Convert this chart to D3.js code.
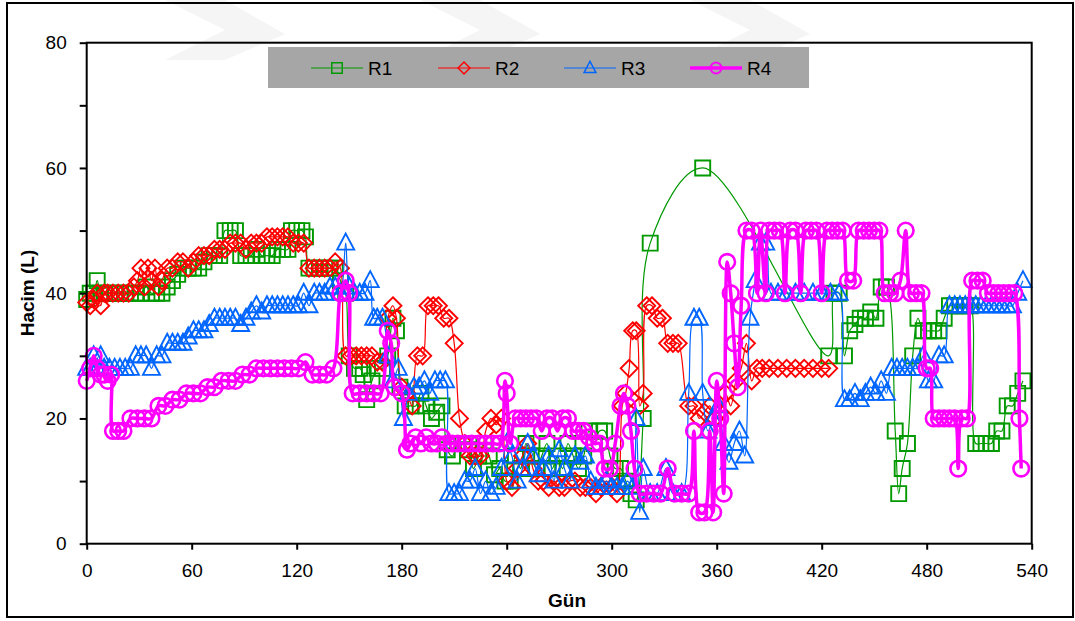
<!DOCTYPE html>
<html>
<head>
<meta charset="utf-8">
<script src="https://cdn.jsdelivr.net/npm/d3@7"></script>
<style>
  html, body { margin: 0; padding: 0; background: #fff; }
  svg { display: block; font-family: "Liberation Sans", Arial, sans-serif; }
</style>
</head>
<body>
<svg id="chart" width="1075" height="621"></svg>
<script>
// Volume (L) of four reactors over time (days)
const seriesNames = ["R1", "R2", "R3", "R4"];
const xTicks = [0, 60, 120, 180, 240, 300, 360, 420, 480, 540];
const yTicks = [0, 10, 20, 30, 40, 50, 60, 70, 80];

const r1 = [[0,39],[2,40],[4,40],[6,42],[8,40],[10,40],[13,40],[16,40],[19,40],[22,40],[25,40],[28,40],[31,40],[34,41],[37,40],[40,40],[43,40],[46,41],[49,42],[52,43],[55,44],[58,44],[61,44],[64,44],[67,45],[70,46],[73,46],[76,46],[79,50],[82,50],[85,50],[88,46],[91,46],[94,46],[97,47],[100,46],[103,46],[106,46],[109,47],[112,47],[115,47],[117,50],[120,50],[123,50],[125,49],[127,44],[130,44],[133,44],[136,44],[139,44],[142,44],[145,42],[148,40],[150,30],[153,28],[156,28],[158,27],[160,23],[163,26],[166,28],[169,28],[172,30],[175,36],[177,34],[179,25],[182,22],[185,22],[188,22],[191,24],[194,22],[197,20],[200,21],[203,22],[206,15],[209,14],[212,16],[215,16],[218,15],[221,12],[224,14],[227,16],[230,14],[233,11],[236,12],[239,10],[242,10],[245,14],[248,12],[251,16],[254,14],[257,12],[260,14],[263,16],[266,12],[269,14],[272,12],[275,16],[278,14],[281,12],[284,14],[287,18],[290,16],[293,18],[296,18],[299,14],[302,12],[305,12],[308,10],[311,8],[314,7],[318,20],[322,48],[352,60],[424,30],[427,40],[430,40],[433,30],[436,34],[439,35],[442,36],[445,36],[448,37],[451,36],[454,41],[457,41],[462,18],[464,8],[466,12],[469,16],[472,30],[475,36],[478,34],[481,34],[484,34],[487,34],[490,36],[493,38],[496,38],[499,38],[502,38],[505,38],[508,16],[511,16],[514,16],[517,16],[520,18],[523,18],[526,22],[529,22],[532,24],[535,26]];

const r2 = [[0,38.5],[2,38],[4,39],[6,40],[8,38],[10,40],[12,40],[15,40],[18,40],[21,40],[24,40],[27,41],[29,42],[31,44],[33,41],[35,44],[37,42],[39,44],[41,41],[43,42],[46,44],[49,44],[52,45],[55,45],[58,44],[61,45],[64,46],[67,46],[70,46],[73,47],[76,47],[79,47],[82,48],[85,48],[88,48],[91,47],[94,48],[97,48],[100,48],[103,49],[106,49],[109,49],[112,49],[115,49],[118,48],[121,48],[124,48],[127,44],[130,44],[133,44],[136,44],[139,44],[142,45],[145,44],[148,30],[151,30],[154,30],[157,30],[160,30],[163,30],[166,29],[169,29],[172,36],[175,38],[177,36],[180,25],[183,24],[186,22],[189,30],[192,30],[195,38],[198,38],[201,38],[204,36],[207,36],[210,32],[213,20],[216,16],[219,14],[222,14],[225,14],[228,18],[231,20],[234,19],[237,20],[240,10],[243,9],[246,12],[249,14],[252,16],[255,12],[258,10],[261,10],[264,9],[267,10],[270,9],[273,9],[276,10],[279,10],[282,9],[285,9],[288,9],[291,8],[294,9],[297,10],[300,9],[303,8],[306,22],[308,24],[310,28],[312,34],[314,34],[316,22],[318,24],[320,38],[323,38],[326,36],[329,36],[332,32],[335,32],[338,32],[344,22],[347,22],[350,20],[353,21],[356,22],[359,20],[362,21],[365,24],[368,22],[371,26],[374,28],[377,32],[380,26],[383,28],[386,28],[390,28],[395,28],[400,28],[405,28],[410,28],[415,28],[420,28],[424,28]];

const r3 = [[0,28],[2,28],[4,30],[6,28],[8,30],[10,28],[13,28],[16,28],[19,28],[22,28],[25,28],[28,30],[31,30],[34,30],[37,28],[40,30],[43,30],[46,32],[49,32],[52,32],[55,32],[58,33],[61,34],[64,34],[67,34],[70,35],[73,36],[76,36],[79,36],[82,36],[85,36],[88,35],[91,36],[94,37],[97,38],[100,37],[103,38],[106,38],[109,38],[112,38],[115,38],[118,38],[121,38],[124,40],[127,38],[130,40],[133,40],[136,40],[139,41],[142,41],[145,40],[148,48],[150,41],[153,40],[156,40],[159,40],[162,42],[164,36],[166,36],[169,36],[172,30],[175,26],[178,28],[181,20],[184,24],[187,25],[190,25],[193,26],[196,24],[199,26],[202,26],[205,26],[207,8],[210,8],[213,8],[216,10],[219,10],[222,12],[225,8],[228,10],[231,8],[234,9],[237,12],[240,16],[243,14],[246,10],[249,12],[252,16],[255,14],[258,11],[261,12],[264,14],[267,10],[270,15],[273,12],[276,10],[279,14],[282,13],[285,14],[288,10],[291,9],[294,9],[297,10],[300,9],[303,9],[306,9],[309,10],[312,9],[314,20],[316,5],[318,12],[322,8],[326,8],[331,12],[335,8],[340,8],[344,24],[347,36],[350,36],[352,24],[355,18],[358,20],[361,22],[364,16],[367,13],[370,16],[373,18],[376,14],[379,36],[382,42],[385,48],[388,48],[391,40],[395,40],[400,40],[405,40],[410,40],[415,40],[420,40],[425,40],[430,40],[433,23],[436,23],[439,24],[442,23],[445,24],[448,25],[451,24],[454,26],[457,24],[460,28],[463,28],[466,28],[469,28],[472,28],[475,28],[478,30],[481,26],[484,26],[487,30],[490,30],[493,38],[496,38],[499,38],[502,38],[505,38],[508,38],[511,38],[514,38],[517,38],[520,38],[523,38],[526,38],[529,38],[532,40],[535,42]];

const r4 = [[0,26],[2,28],[4,30],[6,28],[8,27],[10,27],[12,26],[14,27],[15,18],[18,18],[21,18],[25,20],[29,20],[33,20],[37,20],[41,22],[45,22],[49,23],[53,23],[57,24],[61,24],[65,24],[69,25],[73,25],[77,26],[81,26],[85,26],[89,27],[93,27],[97,28],[101,28],[105,28],[109,28],[113,28],[117,28],[121,28],[125,29],[129,27],[133,27],[137,27],[141,28],[145,40],[148,42],[150,40],[152,24],[156,24],[160,24],[164,24],[168,24],[172,34],[174,32],[176,25],[180,24],[183,15],[185,16],[188,17],[191,16],[194,17],[197,16],[200,16],[203,17],[206,16],[209,16],[212,16],[216,16],[220,16],[224,16],[228,16],[232,16],[236,16],[239,26],[240,24],[242,16],[245,20],[248,20],[251,20],[254,20],[257,20],[260,18],[263,20],[266,20],[269,18],[272,20],[275,20],[278,18],[281,18],[284,18],[287,17],[290,16],[293,16],[296,12],[299,12],[302,16],[305,22],[307,24],[309,22],[311,18],[313,12],[316,8],[320,8],[324,8],[328,8],[332,12],[336,8],[340,8],[344,8],[347,18],[350,5],[353,5],[356,18],[358,5],[360,26],[362,20],[364,8],[366,45],[368,40],[370,32],[372,25],[374,38],[377,50],[380,50],[383,40],[385,50],[388,40],[390,50],[393,50],[396,50],[399,40],[402,50],[405,50],[408,40],[411,50],[414,50],[417,50],[420,40],[423,50],[426,50],[429,50],[432,50],[435,42],[438,42],[441,50],[444,50],[447,50],[450,50],[453,50],[456,40],[459,40],[462,40],[465,42],[468,50],[471,40],[474,40],[477,40],[480,28],[482,28],[484,20],[487,20],[490,20],[493,20],[496,20],[498,12],[500,20],[503,20],[506,42],[509,42],[512,42],[515,40],[518,40],[521,40],[524,40],[527,40],[530,40],[533,20],[534,12]];

const svg = d3.select("#chart");
const plot = { left: 86.7, right: 1031.7, top: 42.7, bottom: 543.7 };

const x = d3.scaleLinear().domain([0, 540]).range([plot.left, plot.right]);
const y = d3.scaleLinear().domain([0, 80]).range([plot.bottom, plot.top]);

// faint background shapes along the top
const wm = svg.append("g").attr("fill", "#f5f5f5");
[[165, 0], [420, 0], [690, 0]].forEach(([cx, cy]) => {
  wm.append("polygon")
    .attr("points", `${cx},${cy} ${cx + 60},${cy} ${cx + 120},${cy + 34} ${cx + 60},${cy + 60} ${cx},${cy + 60} ${cx + 60},${cy + 30}`);
});

// outer frame
svg.append("rect")
  .attr("x", 7).attr("y", 3).attr("width", 1066).attr("height", 614)
  .attr("fill", "none").attr("stroke", "#000").attr("stroke-width", 2);

const styles = {
  R1: { data: r1, color: "#009900", lw: 1.2, mw: 1.9, shape: "square" },
  R2: { data: r2, color: "#ff0000", lw: 1.2, mw: 1.9, shape: "diamond" },
  R3: { data: r3, color: "#0066ff", lw: 1.2, mw: 1.9, shape: "triangle" },
  R4: { data: r4, color: "#ff00ff", lw: 3.5, mw: 2.6, shape: "circle" }
};

function markerPath(shape) {
  switch (shape) {
    case "square": return "M-7.5,-7.5H7.5V7.5H-7.5Z";
    case "diamond": return "M0,-8.5L8.5,0L0,8.5L-8.5,0Z";
    case "triangle": return "M0,-9.5L8.5,6.5H-8.5Z";
    default: return "M7.8,0A7.8,7.8 0 1,1 -7.8,0A7.8,7.8 0 1,1 7.8,0Z";
  }
}

const line = d3.line()
  .x(d => x(d[0])).y(d => y(d[1]))
  .curve(d3.curveCatmullRom.alpha(0.5));

const series = svg.append("g");
seriesNames.forEach(name => {
  const s = styles[name];
  const g = series.append("g");
  g.append("path").datum(s.data)
    .attr("d", line)
    .attr("fill", "none")
    .attr("stroke", s.color)
    .attr("stroke-width", s.lw)
    .attr("stroke-linejoin", "round");
  g.selectAll("path.m").data(s.data).enter().append("path")
    .attr("class", "m")
    .attr("transform", d => `translate(${x(d[0])},${y(d[1])})`)
    .attr("d", markerPath(s.shape))
    .attr("fill", "none")
    .attr("stroke", s.color)
    .attr("stroke-width", s.mw);
});

// plot frame
svg.append("rect")
  .attr("x", plot.left).attr("y", plot.top)
  .attr("width", plot.right - plot.left).attr("height", plot.bottom - plot.top)
  .attr("fill", "none").attr("stroke", "#000").attr("stroke-width", 2);

// axes
const yAxis = d3.axisLeft(y).tickValues(yTicks).tickSize(7).tickPadding(13)
  .tickFormat(d => d % 20 === 0 ? d : "");
const gy = svg.append("g").attr("transform", `translate(${plot.left},0)`).call(yAxis);
const xAxis = d3.axisBottom(x).tickValues(xTicks).tickSize(6).tickPadding(14);
const gx = svg.append("g").attr("transform", `translate(0,${plot.bottom})`).call(xAxis);
[gx, gy].forEach(g => {
  g.select(".domain").remove();
  g.selectAll(".tick line").attr("stroke", "#000").attr("stroke-width", 2);
  g.selectAll(".tick text").attr("fill", "#000")
    .style("font-size", "19px").style("font-family", "'Liberation Sans', Arial, sans-serif");
});

// axis titles
svg.append("text")
  .attr("transform", "translate(34,293) rotate(-90)")
  .attr("text-anchor", "middle")
  .style("font-size", "19px").style("font-weight", "bold")
  .text("Hacim (L)");
svg.append("text")
  .attr("x", 567).attr("y", 607)
  .attr("text-anchor", "middle")
  .style("font-size", "19px").style("font-weight", "bold")
  .text("Gün");

// legend
const lg = svg.append("g");
lg.append("rect").attr("x", 268).attr("y", 47).attr("width", 541).attr("height", 41)
  .attr("fill", "#a6a6a6");
const legendX = [311, 438, 564, 690];
seriesNames.forEach((name, i) => {
  const s = styles[name];
  const lx = legendX[i], ly = 68;
  lg.append("line").attr("x1", lx).attr("x2", lx + 52).attr("y1", ly).attr("y2", ly)
    .attr("stroke", s.color).attr("stroke-width", s.lw);
  lg.append("path").attr("transform", `translate(${lx + 26},${ly}) scale(0.7)`)
    .attr("d", markerPath(s.shape)).attr("fill", "none")
    .attr("stroke", s.color).attr("stroke-width", s.mw * 1.1);
  lg.append("text").attr("x", lx + 57).attr("y", ly + 7)
    .style("font-size", "19px").attr("fill", "#000").text(name);
});
</script>
</body>
</html>
